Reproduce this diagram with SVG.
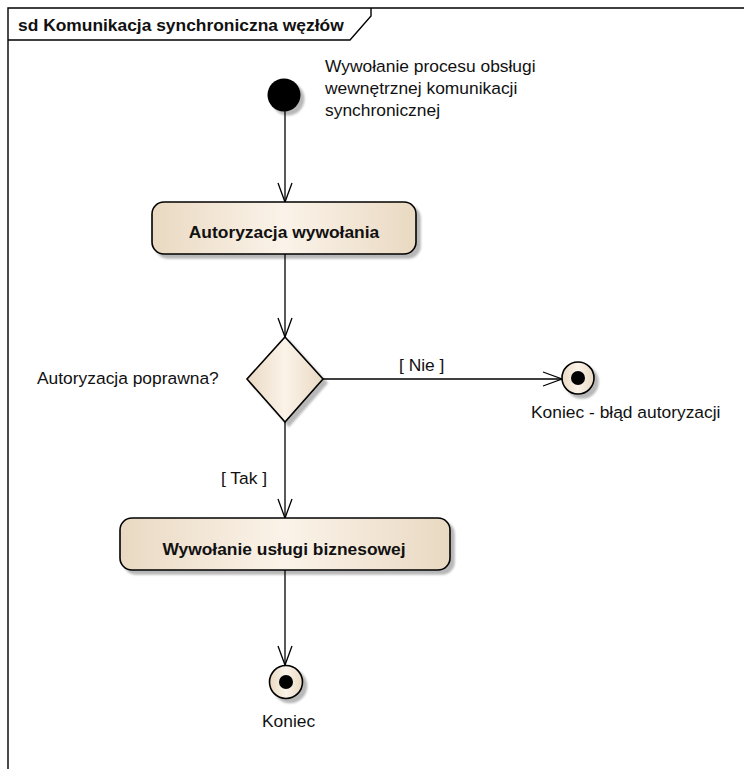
<svg xmlns="http://www.w3.org/2000/svg" width="744" height="769" viewBox="0 0 744 769">
  <style>
    .frame { fill: none; stroke: #000; stroke-width: 1.4; }
    .txt { font-family: "Liberation Sans", Arial, sans-serif; font-size: 17.4px; fill: #111; }
    .bold { font-weight: bold; }
    .act { fill: url(#actFill); stroke: #000; stroke-width: 1.6; }
    .edge { fill: none; stroke: #000; stroke-width: 1.3; }
    .node-end { fill: url(#actFill); stroke: #000; stroke-width: 1.6; }
  </style>
  <defs>
    <linearGradient id="actFill" x1="0" y1="0" x2="1" y2="0">
      <stop offset="0" stop-color="#E9D9C2"/>
      <stop offset="0.5" stop-color="#FBF3E9"/>
      <stop offset="1" stop-color="#E9D9C2"/>
    </linearGradient>
    <filter id="shadow" x="-20%" y="-20%" width="150%" height="150%">
      <feOffset in="SourceAlpha" dx="4" dy="4" result="off"/>
      <feGaussianBlur in="off" stdDeviation="1.3" result="blur"/>
      <feFlood flood-color="#000" flood-opacity="0.28"/>
      <feComposite in2="blur" operator="in" result="sh"/>
      <feMerge>
        <feMergeNode in="sh"/>
        <feMergeNode in="SourceGraphic"/>
      </feMerge>
    </filter>
    <marker id="open" markerWidth="22" markerHeight="18" refX="20" refY="8" orient="auto" markerUnits="userSpaceOnUse">
      <path d="M1,1 L20,8 L1,15" fill="none" stroke="#000" stroke-width="1.3"/>
    </marker>
  </defs>

  <!-- diagram frame with name tab -->
  <g id="frame">
    <path class="frame" d="M8,769 V8 H744"/>
    <path class="frame" d="M8,40 H350 L371,16 V8"/>
    <text class="txt bold" x="18" y="31">sd Komunikacja synchroniczna węzłów</text>
  </g>

  <!-- connectors -->
  <g id="connectors">
    <line class="edge" x1="285" y1="111" x2="285" y2="202" marker-end="url(#open)"/>
    <line class="edge" x1="285" y1="254" x2="285" y2="337" marker-end="url(#open)"/>
    <line class="edge" x1="323" y1="379" x2="562" y2="379" marker-end="url(#open)"/>
    <line class="edge" x1="285" y1="422" x2="285" y2="518" marker-end="url(#open)"/>
    <line class="edge" x1="285" y1="570" x2="285" y2="665" marker-end="url(#open)"/>
    <text class="txt" x="399" y="371">[ Nie ]</text>
    <text class="txt" x="221" y="484">[ Tak ]</text>
  </g>

  <!-- start node -->
  <g id="start">
    <circle cx="284" cy="95" r="16.5" fill="#000" filter="url(#shadow)"/>
    <text class="txt" x="325" y="72">Wywołanie procesu obsługi</text>
    <text class="txt" x="325" y="94">wewnętrznej komunikacji</text>
    <text class="txt" x="325" y="116">synchronicznej</text>
  </g>

  <!-- authorization action -->
  <g id="autoryzacja">
    <rect class="act" x="152" y="202" width="264" height="52" rx="12" filter="url(#shadow)"/>
    <text class="txt bold" x="284" y="238" text-anchor="middle">Autoryzacja wywołania</text>
  </g>

  <!-- decision -->
  <g id="decyzja">
    <path class="act" d="M285,337 L323,379 L285,422 L247,379 Z" filter="url(#shadow)"/>
    <text class="txt" x="37" y="384">Autoryzacja poprawna?</text>
  </g>

  <!-- final node: authorization error -->
  <g id="koniec-blad">
    <circle class="node-end" cx="578" cy="378" r="16" filter="url(#shadow)"/>
    <circle cx="578" cy="378" r="7" fill="#000"/>
    <text class="txt" x="531" y="418">Koniec - błąd autoryzacji</text>
  </g>

  <!-- business service action -->
  <g id="usluga">
    <rect class="act" x="120" y="518" width="330" height="52" rx="12" filter="url(#shadow)"/>
    <text class="txt bold" x="284" y="555" text-anchor="middle">Wywołanie usługi biznesowej</text>
  </g>

  <!-- final node -->
  <g id="koniec">
    <circle class="node-end" cx="286" cy="682" r="16.5" filter="url(#shadow)"/>
    <circle cx="286" cy="682" r="7" fill="#000"/>
    <text class="txt" x="262" y="727">Koniec</text>
  </g>
</svg>
